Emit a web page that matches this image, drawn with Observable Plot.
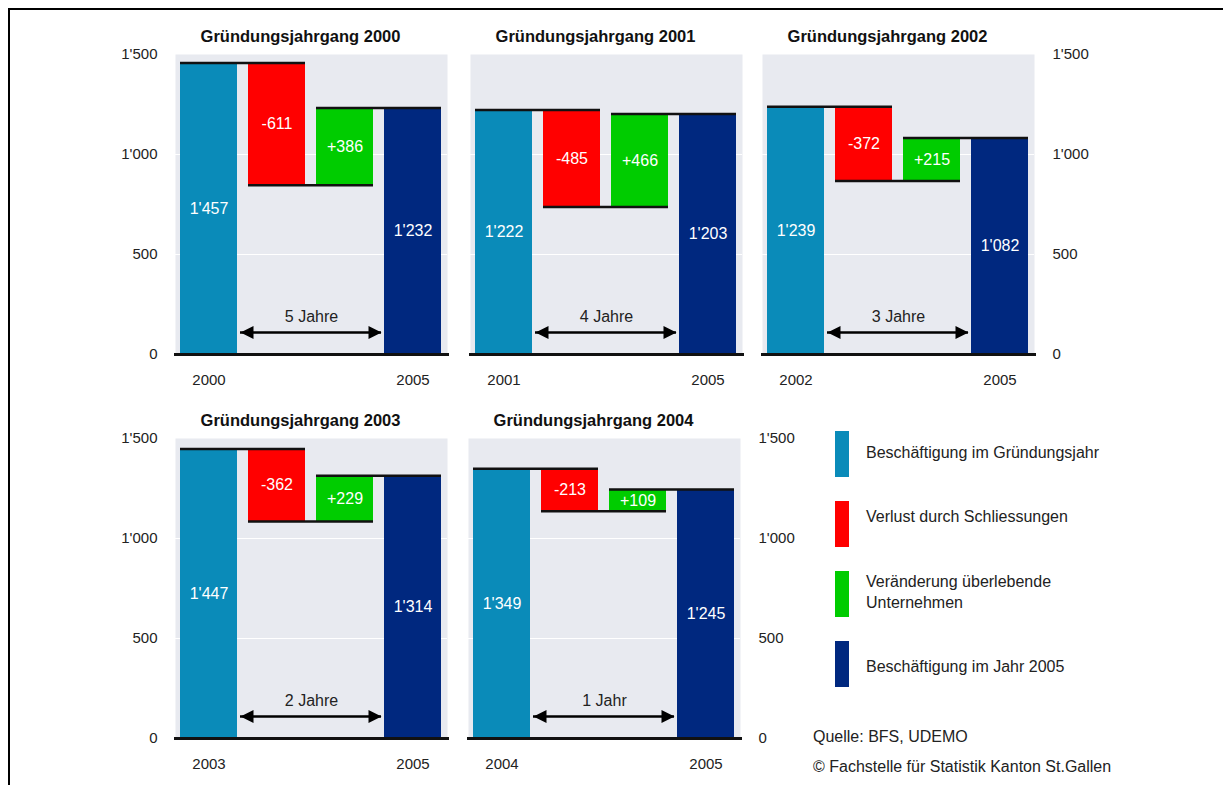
<!DOCTYPE html>
<html>
<head>
<meta charset="utf-8">
<script src="https://cdn.jsdelivr.net/npm/d3@7"></script>
<script src="https://cdn.jsdelivr.net/npm/@observablehq/plot@0.6"></script>
<style>
  body { margin: 0; background: #fff; font-family: "Liberation Sans", Arial, sans-serif; color: #222; }
  #chart { position: relative; width: 1223px; height: 785px; overflow: hidden; }
  #border { position: absolute; left: 8px; top: 8px; right: -4px; bottom: -4px;
            border-top: 2.5px solid #000; border-left: 2.5px solid #000; }
  .swatch { position: absolute; width: 14px; }
  .legend-text { position: absolute; font-size: 16px; line-height: 21px; width: 250px; color: #222; }
  .source { position: absolute; font-size: 16px; line-height: 20px; white-space: nowrap; color: #222; }
</style>
</head>
<body>
<div id="chart"><div id="border"></div></div>
<script>
// Employment of newly founded companies per founding cohort, and its development until 2005
const cohorts = [2000, 2001, 2002, 2003, 2004];
const employmentFounding = [1457, 1222, 1239, 1447, 1349];
const lossClosures = [-611, -485, -372, -362, -213];
const changeSurvivors = [386, 466, 215, 229, 109];
const employment2005 = [1232, 1203, 1082, 1314, 1245];
const spanLabels = ["5 Jahre", "4 Jahre", "3 Jahre", "2 Jahre", "1 Jahr"];
const endYear = 2005;
const titlePrefix = "Gründungsjahrgang";
const yTicks = [0, 500, 1000, 1500];
const steps = ["start", "loss", "gain", "end"];
const stepColors = ["#0a8bb9", "#ff0000", "#00cc00", "#00287f"];
const legendLabels = [
  "Beschäftigung im Gründungsjahr",
  "Verlust durch Schliessungen",
  "Veränderung überlebende Unternehmen",
  "Beschäftigung im Jahr 2005"
];
const sourceLines = ["Quelle: BFS, UDEMO", "© Fachstelle für Statistik Kanton St.Gallen"];

// Layout of the five small multiples (frame position and y-axis side)
const panelLayout = [
  {left: 175, top: 54, axis: "left"},
  {left: 470, top: 54, axis: null},
  {left: 762, top: 54, axis: "right"},
  {left: 175, top: 438, axis: "left"},
  {left: 468, top: 438, axis: "right"}
];
const FRAME_W = 272, FRAME_H = 300;
const M = {top: 50, right: 80, bottom: 40, left: 80};
const ARROW_LEVEL = 110;
const BG = "#e8eaf0";
const INK = "#111";
const TEXT = "#222";

// Swiss number format: 1'457, -611
const swiss = d3.formatLocale({decimal: ".", thousands: "'", grouping: [3], currency: ["", ""], minus: "-"});
const fmt = swiss.format(",");
const fmtSigned = (v) => (v > 0 ? "+" : "") + fmt(v);

// Filled arrow heads, tip at the origin
const headLeft = {draw(ctx) { ctx.moveTo(0, 0); ctx.lineTo(13, -6.5); ctx.lineTo(13, 6.5); ctx.closePath(); }};
const headRight = {draw(ctx) { ctx.moveTo(0, 0); ctx.lineTo(-13, -6.5); ctx.lineTo(-13, 6.5); ctx.closePath(); }};

const chart = document.getElementById("chart");

cohorts.forEach((cohort, i) => {
  const s = employmentFounding[i], l = lossClosures[i], g = changeSurvivors[i], e = employment2005[i];
  const bars = [
    {step: "start", y1: 0, y2: s, label: fmt(s)},
    {step: "loss", y1: s + l, y2: s, label: fmtSigned(l)},
    {step: "gain", y1: s + l, y2: s + l + g, label: fmtSigned(g)},
    {step: "end", y1: 0, y2: e, label: fmt(e)}
  ];
  const connectors = [
    {from: "start", to: "loss", y: s},
    {from: "loss", to: "gain", y: s + l},
    {from: "gain", to: "end", y: e}
  ];
  const span = [{from: "start", to: "end", y: ARROW_LEVEL, label: spanLabels[i]}];
  const xTickLabels = [
    {step: "start", label: String(cohort)},
    {step: "end", label: String(endYear)}
  ];
  const layout = panelLayout[i];

  const marks = [
    Plot.frame({fill: BG, stroke: "none"}),
    Plot.ruleY(yTicks.filter((t) => t > 0 && t < 1500), {stroke: "white", strokeWidth: 1.2}),
    Plot.barY(bars, {x: "step", y1: "y1", y2: "y2", fill: "step"}),
    Plot.ruleY(connectors, {x1: "from", x2: "to", y: "y", stroke: INK, strokeWidth: 2.5}),
    Plot.ruleY([0], {insetLeft: -1, insetRight: -2, stroke: INK, strokeWidth: 3}),
    Plot.text(bars, {x: "step", y: (d) => (d.y1 + d.y2) / 2, text: "label", fill: "white", fontSize: 16}),
    Plot.ruleY(span, {x1: "from", x2: "to", y: "y", insetLeft: 60, insetRight: 60, stroke: "#000", strokeWidth: 2.5}),
    Plot.dot(span, {x: "from", y: "y", symbol: headLeft, fill: "#000", stroke: "none", dx: 31.5}),
    Plot.dot(span, {x: "to", y: "y", symbol: headRight, fill: "#000", stroke: "none", dx: -31.5}),
    Plot.text(span, {y: "y", text: "label", dy: -16, fontSize: 16, fill: TEXT}),
    Plot.text([`${titlePrefix} ${cohort}`], {frameAnchor: "top", lineAnchor: "middle", dy: -18, dx: -11,
      fontWeight: "bold", fontSize: 16.5, fill: INK}),
    // year labels below the first and last bar
    Plot.text(xTickLabels, {x: "step", text: "label", frameAnchor: "bottom", lineAnchor: "middle", dy: 26,
      fontSize: 15, fill: TEXT})
  ];
  if (layout.axis) {
    const left = layout.axis === "left";
    marks.push(Plot.text(yTicks, {
      y: (d) => d, text: fmt, frameAnchor: left ? "left" : "right",
      textAnchor: left ? "end" : "start", dx: left ? -18 : 18, fontSize: 15, fill: TEXT
    }));
  }

  const svg = Plot.plot({
    width: FRAME_W + M.left + M.right,
    height: FRAME_H + M.top + M.bottom,
    marginTop: M.top, marginRight: M.right, marginBottom: M.bottom, marginLeft: M.left,
    style: {background: "transparent", fontFamily: "'Liberation Sans', Arial, sans-serif",
            overflow: "visible", maxWidth: "none"},
    x: {type: "band", domain: steps, paddingInner: 0.16, paddingOuter: 0.08, axis: null},
    y: {domain: [0, 1500], axis: null},
    color: {domain: steps, range: stepColors},
    marks
  });
  svg.style.position = "absolute";
  svg.style.left = (layout.left - M.left) + "px";
  svg.style.top = (layout.top - M.top) + "px";
  chart.appendChild(svg);
});

// Legend
const swatchTops = [431, 501, 571, 641];
const legendTextTops = [442, 506, 571, 656];
legendLabels.forEach((label, i) => {
  const sw = document.createElement("div");
  sw.className = "swatch";
  sw.style.left = "835px";
  sw.style.top = swatchTops[i] + "px";
  sw.style.height = "46px";
  sw.style.background = stepColors[i];
  chart.appendChild(sw);
  const tx = document.createElement("div");
  tx.className = "legend-text";
  tx.style.left = "866px";
  tx.style.top = legendTextTops[i] + "px";
  tx.textContent = label;
  chart.appendChild(tx);
});

// Source notes
const sourceTops = [727, 757];
sourceLines.forEach((line, i) => {
  const d = document.createElement("div");
  d.className = "source";
  d.style.left = "813px";
  d.style.top = sourceTops[i] + "px";
  d.textContent = line;
  chart.appendChild(d);
});
</script>
</body>
</html>
